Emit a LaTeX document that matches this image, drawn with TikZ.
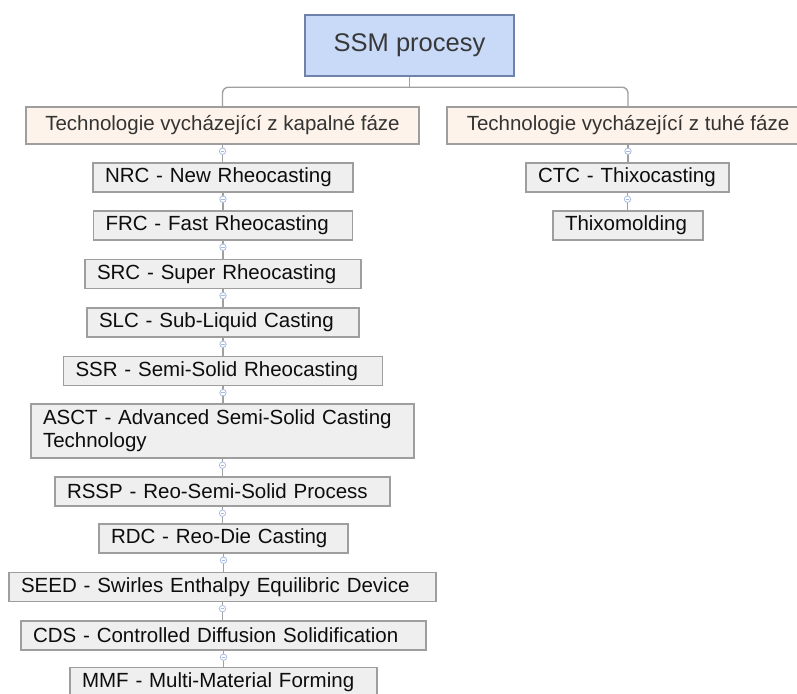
\documentclass[tikz,border=0pt]{standalone}
\usepackage{fontspec}
\setmainfont{Liberation Sans}
\definecolor{rootfill}{HTML}{C9DAF8}
\definecolor{rootline}{HTML}{6F82AC}
\definecolor{phasefill}{HTML}{FDF3EA}
\definecolor{techfill}{HTML}{EFEFEF}
\definecolor{boxline}{HTML}{9E9E9E}
\definecolor{linkgray}{HTML}{A0A0A0}
\definecolor{foldblue}{HTML}{A9BCE0}
\begin{document}
\begin{tikzpicture}[x=1pt,y=-1pt,
    every node/.style={font=\fontsize{20.5}{23}\selectfont, inner sep=0pt},
    root/.style={draw=rootline, fill=rootfill, line width=1.4pt, text=black!78,
      font=\fontsize{25.5}{30}\selectfont, minimum width=209, minimum height=61},
    phase/.style={draw=boxline, fill=phasefill, line width=1.4pt, text=black!80,
      minimum height=37, minimum width=#1},
    tech/.style={draw=boxline, fill=techfill, line width=1.4pt, text=black!95,
      minimum height=29, inner xsep=12, text width=#1-24, align=left},
    link/.style={draw=linkgray, line width=1.4pt},
    fold/.style={draw=foldblue, fill=white, line width=0.8pt},
    foldminus/.style={draw=foldblue, line width=0.8pt}]
  \fill[white] (0,0) rectangle (797,693);
  \useasboundingbox (0,0) rectangle (797,693);

  \node[root] (ssm) at (409.5,45.5) {SSM procesy};
  \node[phase=393] (liquid) at (222.5,125.5) {Technologie vycházející z kapalné fáze};
  \node[phase=362] (solid) at (628,125.5) {Technologie vycházející z tuhé fáze};

  \node[tech=260] (nrc) at (223,177.5) {NRC - New Rheocasting};
  \node[tech=259] (frc) at (223,225.5) {FRC - Fast Rheocasting};
  \node[tech=276] (src) at (223,274) {SRC - Super Rheocasting};
  \node[tech=272] (slc) at (223,322.5) {SLC - Sub-Liquid Casting};
  \node[tech=319] (ssr) at (223,371) {SSR - Semi-Solid Rheocasting};
  \node[tech=383, minimum height=54] (asct) at (222.5,431)
    {ASCT - Advanced Semi-Solid Casting\\Technology};
  \node[tech=335] (rssp) at (222.5,491.5) {RSSP - Reo-Semi-Solid Process};
  \node[tech=249] (rdc) at (223.5,538.5) {RDC - Reo-Die Casting};
  \node[tech=427] (seed) at (222.5,587) {SEED - Swirles Enthalpy Equilibric Device};
  \node[tech=405] (cds) at (223.5,635.5) {CDS - Controlled Diffusion Solidification};
  \node[tech=307] (mmf) at (223.5,682) {MMF - Multi-Material Forming};

  \node[tech=203] (ctc) at (627.5,177.5) {CTC - Thixocasting};
  \node[tech=150] (thixo) at (628,225.5) {Thixomolding};

  \coordinate (bar) at ([yshift=-10.5pt]ssm.south);
  \draw[link] (ssm.south) -- (bar);
  \draw[link, rounded corners=6] (liquid.north) |- (bar) -| (solid.north);

  \foreach \a/\b in {liquid/nrc, nrc/frc, frc/src, src/slc, slc/ssr, ssr/asct,
      asct/rssp, rssp/rdc, rdc/seed, seed/cds, cds/mmf, solid/ctc, ctc/thixo}
    \draw[link] (\a.south) -- (\a.south |- \b.north);

  \foreach \a in {liquid, nrc, frc, src, slc, ssr, asct, rssp, rdc, seed, cds, solid, ctc} {
    \filldraw[fold] ([yshift=-6.5pt]\a.south) circle (3.2pt);
    \draw[foldminus] ([xshift=-1.7pt,yshift=-6.5pt]\a.south) -- ([xshift=1.7pt,yshift=-6.5pt]\a.south);
  }
\end{tikzpicture}
\end{document}
